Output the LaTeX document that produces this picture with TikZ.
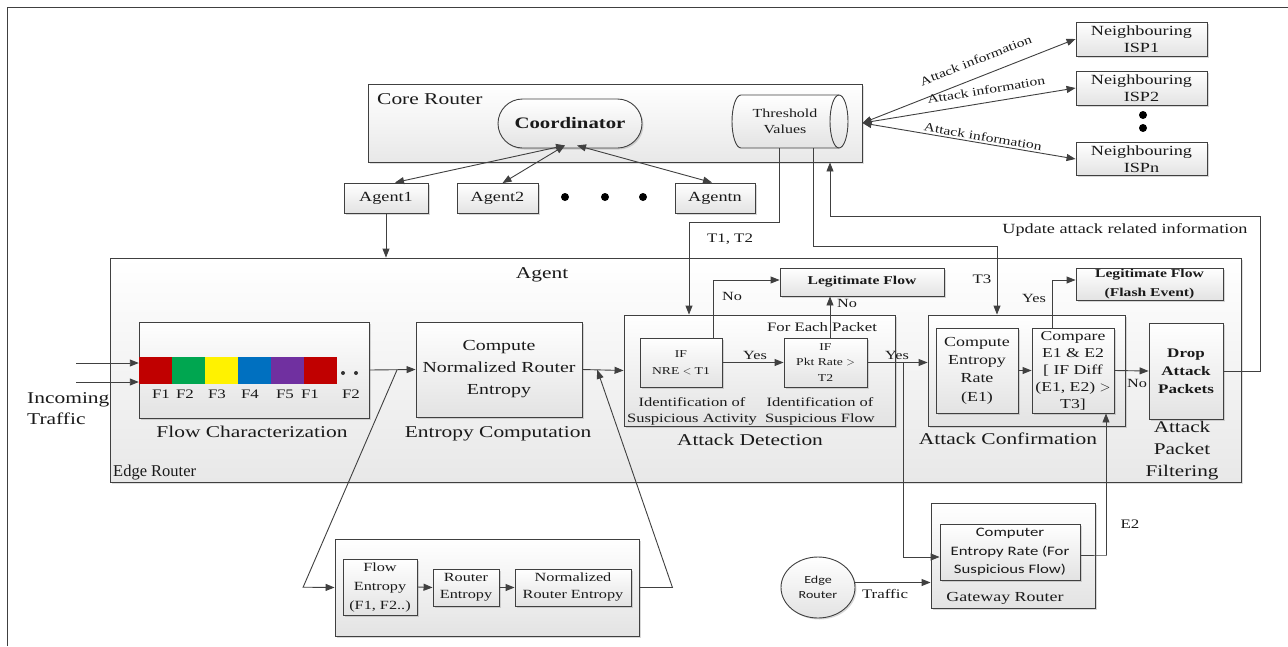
\documentclass[tikz,border=0pt]{standalone}
\usepackage{fontspec}
\setmainfont{Liberation Serif}[FakeStretch=1.3]
\newfontfamily\serplain{Liberation Serif}
\newfontfamily\calib{Carlito}[FakeStretch=1.3]
\usetikzlibrary{arrows.meta,shapes.geometric,shapes.misc,shadows,calc}
\definecolor{lcol}{HTML}{404040}
\definecolor{tcol}{HTML}{1A1A1A}
\definecolor{cred}{HTML}{C00000}
\definecolor{cgreen}{HTML}{00A650}
\definecolor{cyellow}{HTML}{FFF200}
\definecolor{cblue}{HTML}{0070C0}
\definecolor{cpurple}{HTML}{7030A0}
\newcommand\fz[2]{\fontsize{#1pt}{#2pt}\selectfont}
\begin{document}
\begin{tikzpicture}[x=1pt,y=-1pt,
  box/.style={draw=lcol, line width=0.9pt, top color=white, bottom color=black!11, drop shadow={shadow xshift=1.5pt, shadow yshift=-1.5pt, opacity=0.3}, inner sep=1pt, align=center, text=tcol},
  frame/.style={draw=lcol, line width=0.9pt, top color=white, bottom color=black!9, drop shadow={shadow xshift=1.5pt, shadow yshift=-1.5pt, opacity=0.25}, inner sep=0pt},
  ln/.style={draw=lcol, line width=0.9pt},
  arr/.style={ln, -{Triangle[length=9pt,width=7pt]}},
  barr/.style={ln, {Triangle[length=9pt,width=7pt]}-{Triangle[length=9pt,width=7pt]}},
  lbl/.style={inner sep=0pt, text=tcol, align=center},
  blk/.style={minimum width=33pt, minimum height=27pt, inner sep=0pt},
  bigdot/.style={circle, fill=black, inner sep=0pt, minimum size=8pt},
  sdot/.style={circle, fill=black!80, inner sep=0pt, minimum size=4pt},
]
\useasboundingbox (0,0) rectangle (1288,646);
\fill[white] (0,0) rectangle (1288,646);
\draw[ln] (7.5,646) -- (7.5,7.5) -- (1288,7.5);

% ---------- core router ----------
\node[frame, minimum width=494pt, minimum height=78pt] (core) at (615,123) {};
\node[lbl, anchor=base west, font=\fz{16.5}{20}] (corelbl) at (377,104) {Core Router};
\node[box, rounded rectangle, minimum width=146pt, minimum height=49pt, font=\bfseries\fz{16}{20}] (coord) at (570,123.5) {Coordinator};
% threshold values (horizontal cylinder)
\path[draw=lcol, line width=0.9pt, top color=white, bottom color=black!11]
  (741,95) -- (839,95) arc[start angle=90, end angle=-90, x radius=9pt, y radius=26.5pt]
  -- (741,148) arc[start angle=270, end angle=90, x radius=9pt, y radius=26.5pt] -- cycle;
\draw[ln] (839,95) arc[start angle=90, end angle=270, x radius=9pt, y radius=26.5pt];
\node[lbl, minimum width=108pt, minimum height=53pt, font=\fz{12.3}{16}] (thr) at (785,121.5) {Threshold\\Values};

% ---------- agents ----------
\node[box, minimum width=84pt, minimum height=30pt, font=\fz{14}{17}] (ag1) at (386,198) {Agent1};
\node[box, minimum width=81pt, minimum height=30pt, font=\fz{14}{17}] (ag2) at (497.5,198.5) {Agent2};
\node[box, minimum width=80pt, minimum height=30pt, font=\fz{14}{17}] (agn) at (715,198) {Agentn};
\node[bigdot] (ad1) at (565,197) {};
\node[bigdot] (ad2) at (605,197) {};
\node[bigdot] (ad3) at (643,197) {};
\draw[barr] ([xshift=-5pt,yshift=3pt]coord.south) -- ([xshift=9pt]ag1.north);
\draw[barr] ([xshift=-5pt,yshift=3pt]coord.south) -- ([xshift=5pt]ag2.north);
\draw[barr] ([xshift=7pt,yshift=3pt]coord.south) -- ([xshift=-3pt]agn.north);

% ---------- neighbouring ISPs ----------
\node[box, minimum width=131pt, minimum height=34pt, font=\fz{14}{17}] (isp1) at (1141.5,39) {Neighbouring\\ISP1};
\node[box, minimum width=131pt, minimum height=34pt, font=\fz{14}{17}] (isp2) at (1141.5,88) {Neighbouring\\ISP2};
\node[box, minimum width=131pt, minimum height=33pt, font=\fz{14}{17}] (ispn) at (1141.5,159) {Neighbouring\\ISPn};
\node[bigdot] (id1) at (1143,115) {};
\node[bigdot] (id2) at (1143,128) {};
\draw[barr] (core.east) -- node[lbl, sloped, above=12pt, pos=0.56, font=\fz{12}{14}] {Attack information} (isp1.west);
\draw[barr] (core.east) -- node[lbl, sloped, above=8pt, pos=0.59, font=\fz{12}{14}] {Attack information} (isp2.west);
\draw[barr] (core.east) -- node[lbl, sloped, above=2pt, pos=0.56, font=\fz{12}{14}] {Attack information} (ispn.west);

% ---------- agent / edge router ----------
\node[frame, minimum width=1131pt, minimum height=224pt] (agbox) at (675.5,370) {};
\node[lbl, anchor=base, font=\fz{16.5}{20}] (aglbl) at (542,278) {Agent};
\node[lbl, anchor=base west, font=\serplain\fz{16.5}{20}] (erlbl) at (113,476) {Edge Router};
\draw[arr] (ag1.south) -- (ag1.south |- agbox.north);

% flow characterization
\node[box, minimum width=230pt, minimum height=96pt] (flowbox) at (254,370) {};
\node[blk, fill=cred] (b1) at (155.5,370.5) {};
\node[blk, fill=cgreen] (b2) at (188.5,370.5) {};
\node[blk, fill=cyellow] (b3) at (221.5,370.5) {};
\node[blk, fill=cblue] (b4) at (254.5,370.5) {};
\node[blk, fill=cpurple] (b5) at (287.5,370.5) {};
\node[blk, fill=cred] (b6) at (320.5,370.5) {};
\node[sdot] (fd1) at (343,373) {};
\node[sdot] (fd2) at (356,373) {};
\foreach \x/\t [count=\i] in {161/F1,185/F2,217/F3,250/F4,285/F5,310/F1,351/F2}
  \node[lbl, anchor=base, font=\fz{13}{16}] (fl\i) at (\x,398) {\t};
\node[lbl, anchor=base, font=\fz{16.5}{20}] (fclbl) at (252,437) {Flow Characterization};
\coordinate (in1) at (76,363);
\coordinate (in2) at (76,382);
\draw[arr] (in1) -- ([yshift=7.5pt]b1.west);
\draw[arr] (in2) -- ([yshift=-11.5pt]b1.west);
\node[lbl, anchor=west, align=left, font=\fz{16.5}{21}] (inc) at (27,409) {Incoming\\Traffic};

% entropy computation
\node[box, minimum width=166pt, minimum height=95pt, font=\fz{15.3}{22}] (entbox) at (499,369.5) {Compute\\Normalized Router\\Entropy};
\node[lbl, anchor=base, font=\fz{16.5}{20}] (eclbl) at (498,437) {Entropy Computation};
\draw[arr] (flowbox.east) -- (entbox.west);

% lower entropy box
\node[box, minimum width=304pt, minimum height=97pt] (lowbox) at (487,587.5) {};
\node[box, minimum width=74pt, minimum height=56pt, font=\fz{12.5}{19}] (fe) at (380,587) {Flow\\Entropy\\(F1, F2..)};
\node[box, minimum width=66pt, minimum height=37pt, font=\fz{12.5}{17}] (re) at (466,587.5) {Router\\Entropy};
\node[box, minimum width=116pt, minimum height=37pt, font=\fz{12.5}{17}] (nre2) at (573,587.5) {Normalized\\Router Entropy};
\draw[arr] (fe.east) -- (re.west);
\draw[arr] (re.east) -- (nre2.west);
\coordinate (j1) at ($(flowbox.east)!0.6!(entbox.west)$);
\draw[arr] (j1) -- ++(-94,217.5) -- (lowbox.west);

% attack detection
\node[box, minimum width=271pt, minimum height=111pt] (detbox) at (759.5,370.5) {};
\node[lbl, anchor=base, font=\fz{16.5}{20}] (adlbl) at (750,445) {Attack Detection};
\node[box, minimum width=82pt, minimum height=49pt, font=\fz{10.5}{17}] (nre) at (681,362.5) {IF\\NRE $<$ T1};
\node[box, minimum width=83pt, minimum height=49pt, font=\fz{10.5}{15.5}] (pkt) at (825.5,362.5) {IF\\Pkt Rate $>$\\T2};
\node[lbl, font=\fz{12.7}{16}] (ida) at (692,411) {Identification of\\Suspicious Activity};
\node[lbl, font=\fz{12.7}{16}] (idf) at (820,411) {Identification of\\Suspicious Flow};
\node[lbl, anchor=base, font=\fz{12.9}{16}] (fep) at (822,331) {For Each Packet};
\node[box, minimum width=164pt, minimum height=28pt, font=\bfseries\fz{12}{15}] (legit1) at (862,282) {Legitimate Flow};
\coordinate (j2) at ($(entbox.east)!0.36!(detbox.west)$);
\draw[arr] (entbox.east) -- (detbox.west);
\draw[arr] (lowbox.east) -- ++(33,0) -- (j2);
\draw[arr] (nre.east) -- (pkt.west);
\node[lbl, anchor=base, font=\fz{12.5}{15}] (yes1) at (755,359) {Yes};
\draw[arr] ([xshift=32pt]nre.north) |- ([yshift=2pt]legit1.west);
\node[lbl, anchor=base, font=\fz{12.5}{15}] (no1) at (732,300) {No};
\draw[arr] ([xshift=4.5pt]pkt.north) -- ([xshift=4.5pt]pkt.north |- legit1.south);
\node[lbl, anchor=base, font=\fz{12.5}{15}] (no2) at (847,307) {No};

% threshold lines
\draw[arr] ([xshift=-6pt]thr.south) -- ++(0,74) -| ([xshift=-70.5pt]detbox.north);
\node[lbl, anchor=base, font=\fz{13}{16}] (t12) at (730,242) {T1, T2};

% attack confirmation
\node[box, minimum width=197pt, minimum height=111pt] (confbox) at (1026.5,370.5) {};
\node[lbl, anchor=base, font=\fz{16.5}{20}] (aclbl) at (1008,444) {Attack Confirmation};
\node[box, minimum width=82pt, minimum height=85pt, font=\fz{13.8}{18.3}] (cer) at (977,370.5) {Compute\\Entropy\\Rate\\(E1)};
\node[box, minimum width=82pt, minimum height=85pt, font=\fz{13.6}{17}] (cmp) at (1073,370.5) {Compare\\E1 \& E2\\{[} IF Diff\\(E1, E2) $>$\\T3]};
\node[box, minimum width=147pt, minimum height=32pt, font=\bfseries\fz{12}{19}] (legit2) at (1149.5,284) {Legitimate Flow\\(Flash Event)};
\node[box, minimum width=74pt, minimum height=96pt, font=\bfseries\fz{13.1}{18}] (drop) at (1186,371) {Drop\\Attack\\Packets};
\node[lbl, font=\fz{16.3}{22}] (apf) at (1182,451) {Attack\\Packet\\Filtering};
\draw[arr] (pkt.east) -- (pkt.east -| confbox.west);
\node[lbl, anchor=base, font=\fz{12.5}{15}] (yes2) at (897,359) {Yes};
\draw[arr] (cer.east) -- (cmp.west);
\draw[arr] ([xshift=-21pt]cmp.north) |- ([yshift=4pt]legit2.west);
\node[lbl, anchor=base, font=\fz{12.5}{15}] (yes3) at (1034,302) {Yes};
\draw[arr] (cmp.east) -- (drop.west);
\node[lbl, anchor=base, font=\fz{12.5}{15}] (no3) at (1137,387) {No};
\draw[arr] ([xshift=28pt]thr.south) -- ++(0,98) -| ([xshift=-29.5pt]confbox.north);
\node[lbl, anchor=base, font=\fz{13}{16}] (t3) at (982,283) {T3};
\draw[arr] (drop.east) -- ++(37,0) -- ++(0,-155) -| ([xshift=215pt]core.south);
\node[lbl, anchor=base, font=\fz{14}{17}] (upd) at (1125,233) {Update attack related information};

% gateway router
\node[box, minimum width=164pt, minimum height=105pt] (gw) at (1013,555.5) {};
\node[box, minimum width=140pt, minimum height=56pt, font=\calib\fz{12.9}{18.5}] (gwin) at (1010,552) {Computer\\Entropy Rate (For\\Suspicious Flow)};
\node[lbl, anchor=base, font=\fz{13.8}{17}] (gwlbl) at (1005,601) {Gateway Router};
\node[box, ellipse, minimum width=74pt, minimum height=61pt, inner sep=0pt, font=\calib\fz{10.8}{15}] (er) at (818,587.5) {Edge\\Router};
\draw[arr] ([yshift=5pt]er.east) -- ([yshift=5pt]er.east -| gw.west);
\node[lbl, anchor=base, font=\fz{13}{16}] (trf) at (885,598) {Traffic};
\coordinate (j3) at ([xshift=36pt]pkt.east);
\draw[arr] (j3) |- ([yshift=-5pt]gwin.west);
\draw[arr] ([yshift=-3pt]gwin.east) -- ++(26,0) -| ([xshift=33pt]cmp.south);
\node[lbl, anchor=base, font=\fz{13}{16}] (e2) at (1130,528) {E2};
\end{tikzpicture}
\end{document}
